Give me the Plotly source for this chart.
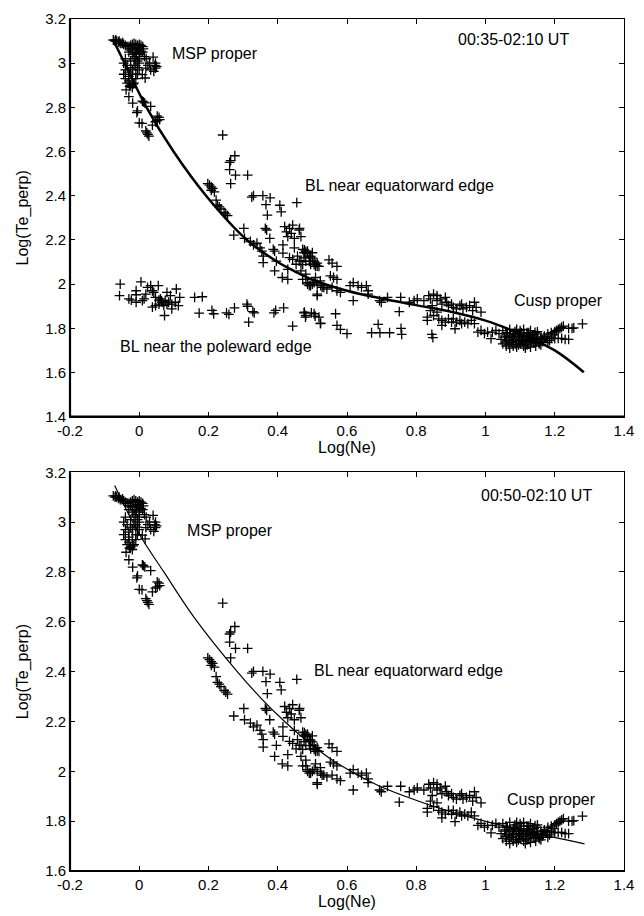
import plotly.graph_objects as go

# ---------------- data ----------------
msp_x = [-0.075,-0.07,-0.065,-0.06,-0.055,-0.05,-0.045,-0.04,-0.035,-0.03,-0.068,-0.058,-0.048,
         -0.025,-0.02,-0.015,-0.01,-0.005,0.0,0.005,0.01,-0.02,-0.01,0.0,0.01,-0.03,-0.02,-0.01,0.0,0.015,0.02,-0.005,0.005,-0.015,-0.025,0.012,-0.008,0.0,-0.005,
         0.04,0.047,0.047,0.042,0.033,0.019,0.009,0.017,0.045,0.05,0.03,0.025,
         -0.045,-0.04,-0.035,-0.03,-0.025,-0.02,-0.015,-0.01,-0.005,0.0,-0.03,-0.02,-0.01,0.0,-0.035,-0.025,-0.015,-0.04,-0.045,-0.03,-0.02,-0.01,-0.04,-0.025,-0.015,-0.005,-0.018,-0.028,
         -0.038,-0.03,-0.019,-0.005,-0.007,0.0,0.008,0.009,0.016,0.033,0.019,0.025,0.028,0.038,0.047,0.052,0.057,0.059,0.052,0.022,0.012]
msp_y = [3.105,3.1,3.1,3.095,3.09,3.09,3.085,3.08,3.075,3.075,3.105,3.1,3.093,
         3.08,3.085,3.09,3.085,3.08,3.085,3.08,3.075,3.06,3.065,3.06,3.05,3.05,3.04,3.03,3.04,3.03,3.02,3.07,3.055,3.05,3.065,3.065,3.045,3.02,3.01,
         3.027,3.0,2.978,2.963,2.97,2.978,2.948,2.933,2.99,2.985,3.0,2.99,
         2.95,2.93,2.91,2.92,2.9,2.89,2.91,2.93,2.95,2.97,2.96,2.97,2.99,3.0,2.99,3.01,3.02,3.02,3.0,2.94,2.93,2.95,2.97,2.98,2.99,2.98,2.905,2.895,
         2.879,2.849,2.819,2.784,2.776,2.73,2.728,2.828,2.82,2.805,2.693,2.678,2.67,2.72,2.735,2.76,2.755,2.745,2.74,2.685,2.825]

bleq_x = [0.241,0.198,0.203,0.208,0.212,0.208,0.217,0.222,0.226,0.231,0.236,0.245,0.25,0.255,
          0.261,0.264,0.276,0.261,0.278,0.264,0.313,0.325,0.33,0.357,0.366,0.378,0.37,0.406,0.41,0.455,
          0.273,0.302,0.304,0.321,0.33,0.34,0.349,0.354,0.358,0.358,0.364,0.368,0.377,0.387,0.391,0.396,0.391,
          0.415,0.415,0.42,0.425,0.429,0.434,0.439,0.443,0.448,0.462,0.413,0.429,0.429,0.434,0.443,0.448,0.453,
          0.457,0.462,0.467,0.472,0.476,0.476,0.481,0.486,0.491,0.495,0.5,0.505,0.509,0.514,0.481,0.486,0.491,
          0.5,0.509,0.514,0.514,0.523,0.528,0.467,0.472,
          0.463,0.467,0.477,0.481,0.486,0.491,0.495,0.5,0.505,0.509,0.514,0.519,0.472,0.481,0.486,0.495,0.505,
          0.514,0.524,0.533,0.542,0.548,0.557,0.571,0.552,0.561,0.571,0.557,0.571,0.581,0.618,0.609,0.618,0.632,
          0.642,0.656,0.661,0.661,0.694,0.699,0.717,0.755,0.751,0.78,0.794,0.803,0.822,0.836,0.841,0.846,0.85,
          0.86,0.86,0.869,0.874,0.884,0.888,0.893,0.902,0.907,0.916,0.926,0.931,0.935,0.945,0.954,0.963,0.968,
          0.973,0.987,0.841,0.832,0.832,0.85,0.86,0.865,0.874,0.874,0.884,0.893,0.902,0.907,0.912,0.916,0.926,
          0.931,0.94,0.949,0.959,0.968,0.978,0.987,0.997,1.006,1.016,1.02,1.03,1.039]
bleq_y = [2.675,2.455,2.448,2.44,2.433,2.425,2.418,2.38,2.357,2.35,2.34,2.325,2.318,2.31,
          2.551,2.559,2.581,2.518,2.493,2.455,2.493,2.394,2.401,2.401,2.36,2.39,2.312,2.357,2.327,2.369,
          2.222,2.252,2.207,2.193,2.178,2.185,2.164,2.149,2.127,2.097,2.252,2.245,2.207,2.157,2.149,2.104,2.06,
          2.178,2.14,2.26,2.237,2.215,2.252,2.23,2.267,2.207,2.245,2.03,2.067,2.022,2.12,2.112,2.164,2.09,
          2.127,2.104,2.06,2.157,2.142,2.119,2.104,2.149,2.127,2.09,2.142,2.104,2.09,2.082,2.045,2.007,1.993,
          2.0,2.03,2.0,1.948,2.015,1.985,2.104,2.022,
          2.252,2.215,2.155,2.148,2.14,2.103,2.125,2.118,2.088,2.08,2.095,2.08,2.088,2.022,2.0,1.993,2.007,
          1.955,1.993,1.985,1.978,2.11,2.095,2.08,2.037,2.03,2.022,1.985,1.97,1.963,1.925,1.993,2.007,1.993,
          1.985,1.993,1.97,1.955,1.925,1.918,1.94,1.94,1.876,1.918,1.925,1.933,1.925,1.948,1.933,1.903,1.955,
          1.948,1.925,1.933,1.91,1.94,1.918,1.903,1.91,1.895,1.888,1.903,1.91,1.888,1.895,1.903,1.88,1.918,
          1.895,1.873,1.88,1.851,1.836,1.858,1.873,1.843,1.836,1.813,1.828,1.843,1.828,1.843,1.798,1.828,1.836,
          1.821,1.828,1.821,1.836,1.821,1.783,1.791,1.776,1.783,1.753,1.783,1.791,1.776]

cusp_x = [1.045,1.05,1.055,1.06,1.06,1.065,1.07,1.07,1.075,1.08,1.08,1.085,1.09,1.09,1.095,1.1,1.1,1.105,1.11,1.11,
          1.115,1.12,1.12,1.125,1.13,1.13,1.135,1.14,1.14,1.145,1.15,1.15,1.155,1.16,1.16,1.165,1.17,1.05,1.06,1.07,
          1.08,1.09,1.1,1.11,1.12,1.13,1.14,1.15,1.16,1.07,1.085,1.095,1.105,1.115,1.125,1.135,1.145,1.155,
          1.058,1.068,1.078,1.088,1.098,1.108,1.118,1.128,1.138,1.148,1.063,1.083,1.103,1.123,1.143,
          1.17,1.18,1.19,1.2,1.205,1.21,1.215,1.22,1.225,1.24,1.25,1.255,1.28,1.175,1.19,1.2,1.21,1.22,1.23,1.24,
          1.185,1.18,1.165,1.195]
cusp_y = [1.75,1.73,1.76,1.72,1.78,1.745,1.71,1.765,1.735,1.75,1.72,1.785,1.74,1.715,1.76,1.73,1.79,1.75,1.72,1.77,
          1.74,1.76,1.725,1.78,1.745,1.715,1.77,1.735,1.755,1.72,1.75,1.775,1.735,1.76,1.725,1.75,1.765,1.79,1.765,1.795,
          1.77,1.795,1.765,1.795,1.78,1.79,1.77,1.785,1.75,1.745,1.765,1.725,1.745,1.71,1.73,1.75,1.74,1.73,
          1.738,1.728,1.758,1.728,1.748,1.738,1.752,1.76,1.745,1.76,1.775,1.775,1.78,1.768,1.782,
          1.76,1.775,1.78,1.785,1.79,1.795,1.8,1.805,1.81,1.8,1.8,1.802,1.82,1.755,1.76,1.753,1.755,1.755,1.75,1.75,
          1.745,1.735,1.74,1.77]

blpole_x = [-0.055,-0.057,-0.03,-0.023,-0.009,-0.009,-0.009,0.005,0.009,0.014,0.019,0.024,0.033,0.038,0.042,0.047,
            0.055,0.038,0.047,0.057,0.061,0.066,0.071,0.075,0.073,0.08,0.085,0.09,0.094,0.094,0.104,0.107,0.113,
            0.117,0.057,0.064,0.08,
            0.16,0.182,0.173,0.21,0.215,0.252,0.259,0.275,0.311,0.313,0.316,0.328,0.332,0.389,0.394,0.417,0.443,
            0.476,0.48,0.497,0.508,0.523,0.477,0.481,0.505,0.519,0.524,0.567,0.571,0.581,0.6,0.671,0.69,0.695,
            0.723,0.756,0.758,0.845,0.848]
blpole_y = [2.0,1.948,1.933,1.928,1.97,1.952,1.918,2.01,1.925,1.933,1.955,1.985,1.993,1.97,1.963,1.94,
            1.993,1.896,1.903,1.91,1.933,1.918,1.903,1.925,1.858,1.963,1.918,1.948,1.91,1.888,1.918,1.978,1.903,
            1.94,1.928,1.925,1.91,
            1.94,1.943,1.869,1.881,1.866,1.87,1.863,1.893,1.91,1.9,1.828,1.876,1.87,1.87,1.881,1.893,1.81,
            1.87,1.851,1.87,1.855,1.821,1.873,1.858,1.866,1.851,1.824,1.866,1.813,1.795,1.776,1.78,1.818,1.78,
            1.78,1.8,1.773,1.773,1.758]

# fitted curves
fit1_x = [-0.075,-0.042,0.021,0.099,0.193,0.311,0.4,0.45,0.5,0.6,0.7,0.8,0.9,1.0,1.1,1.2,1.284]
fit1_y = [3.104,3.0,2.8,2.6,2.4,2.2,2.1,2.057,2.02,1.97,1.935,1.905,1.875,1.835,1.775,1.7,1.601]

fit2_x = [-0.071,-0.03,0.009,0.071,0.16,0.283,0.354,0.42,0.486,0.574,0.687,0.828,0.97,1.111,1.286]
fit2_y = [3.147,3.03,2.931,2.8,2.615,2.4,2.29,2.2,2.12,2.03,1.945,1.87,1.81,1.762,1.709]

x_ticks = [-0.2, 0, 0.2, 0.4, 0.6, 0.8, 1, 1.2, 1.4]
x_ticktext = ["-0.2", "0", "0.2", "0.4", "0.6", "0.8", "1", "1.2", "1.4"]
y1_ticks = [1.4, 1.6, 1.8, 2, 2.2, 2.4, 2.6, 2.8, 3, 3.2]
y1_ticktext = ["1.4", "1.6", "1.8", "2", "2.2", "2.4", "2.6", "2.8", "3", "3.2"]
y2_ticks = [1.6, 1.8, 2, 2.2, 2.4, 2.6, 2.8, 3, 3.2]
y2_ticktext = ["1.6", "1.8", "2", "2.2", "2.4", "2.6", "2.8", "3", "3.2"]

# ---------------- figure ----------------
FONT = "Liberation Sans, Arial, Helvetica, sans-serif"
marker = dict(symbol="cross-thin", size=7, color="black", line=dict(width=1.3, color="black"))

fig = go.Figure()
top_x = msp_x + bleq_x + cusp_x + blpole_x
top_y = msp_y + bleq_y + cusp_y + blpole_y
bot_x = msp_x + bleq_x + cusp_x
bot_y = msp_y + bleq_y + cusp_y

fig.add_trace(go.Scatter(x=top_x, y=top_y, mode="markers", marker=marker, xaxis="x", yaxis="y"))
fig.add_trace(go.Scatter(x=fit1_x, y=fit1_y, mode="lines", line=dict(color="black", width=2.5, shape="spline", smoothing=1.0),
                         xaxis="x", yaxis="y"))
fig.add_trace(go.Scatter(x=bot_x, y=bot_y, mode="markers", marker=marker, xaxis="x2", yaxis="y2"))
fig.add_trace(go.Scatter(x=fit2_x, y=fit2_y, mode="lines", line=dict(color="black", width=1.2, shape="spline", smoothing=1.0),
                         xaxis="x2", yaxis="y2"))

axis_common = dict(showline=True, linecolor="black", linewidth=1, mirror="ticks", ticks="inside",
                   ticklen=5, tickwidth=1, tickcolor="black", showgrid=False, zeroline=False,
                   tickfont=dict(family=FONT, size=15, color="black"))

fig.update_layout(
    width=644, height=916,
    margin=dict(l=70, r=10, t=12, b=45),
    paper_bgcolor="white", plot_bgcolor="white",
    showlegend=False,
    font=dict(family=FONT, size=15, color="black"),
    xaxis=dict(axis_common, range=[-0.2, 1.4], tickvals=x_ticks, ticktext=x_ticktext, anchor="y",
               title=dict(text="Log(Ne)", standoff=0, font=dict(family=FONT, size=16))),
    yaxis=dict(axis_common, range=[1.4, 3.2], tickvals=y1_ticks, ticktext=y1_ticktext, domain=[0.5332, 1.0], anchor="x",
               title=dict(text="Log(Te_perp)", standoff=12, font=dict(family=FONT, size=16))),
    xaxis2=dict(axis_common, range=[-0.2, 1.4], tickvals=x_ticks, ticktext=x_ticktext, anchor="y2",
                title=dict(text="Log(Ne)", standoff=0, font=dict(family=FONT, size=16))),
    yaxis2=dict(axis_common, range=[1.6, 3.2], tickvals=y2_ticks, ticktext=y2_ticktext, domain=[0.0, 0.468], anchor="x2",
                title=dict(text="Log(Te_perp)", standoff=12, font=dict(family=FONT, size=16))),
)

# thicker left and bottom axis lines
for xr, yr in [("x", "y"), ("x2", "y2")]:
    fig.add_shape(type="line", xref=f"{xr} domain", yref=f"{yr} domain", x0=0, x1=1, y0=0, y1=0,
                  line=dict(color="black", width=2.2))
    fig.add_shape(type="line", xref=f"{xr} domain", yref=f"{yr} domain", x0=0, x1=0, y0=0, y1=1,
                  line=dict(color="black", width=2.2))

labels_top = [("MSP proper", 0.089, 3.043), ("00:35-02:10 UT", 0.915, 3.106),
              ("BL near equatorward edge", 0.472, 2.446), ("BL near the poleward edge", -0.061, 1.719),
              ("Cusp proper", 1.077, 1.925)]
labels_bot = [("MSP proper", 0.132, 2.965), ("00:50-02:10 UT", 0.98, 3.108),
              ("BL near equatorward edge", 0.498, 2.403), ("Cusp proper", 1.057, 1.885)]
for t, x, y in labels_top:
    fig.add_annotation(text=t, x=x, y=y, xref="x", yref="y", xanchor="left", yanchor="middle",
                       showarrow=False, font=dict(family=FONT, size=16, color="black"))
for t, x, y in labels_bot:
    fig.add_annotation(text=t, x=x, y=y, xref="x2", yref="y2", xanchor="left", yanchor="middle",
                       showarrow=False, font=dict(family=FONT, size=16, color="black"))

fig.write_html("out.html")
